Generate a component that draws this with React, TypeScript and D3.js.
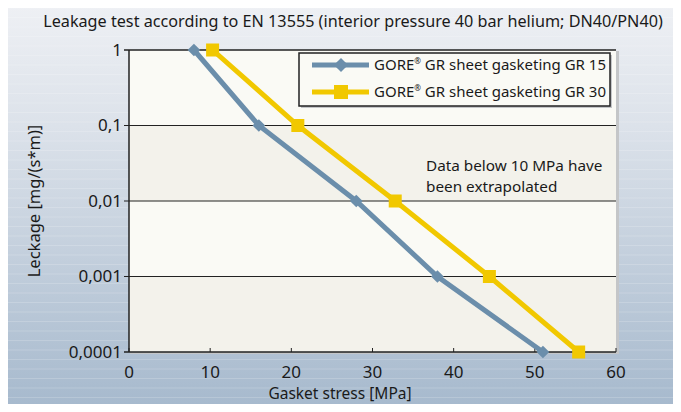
import * as d3 from 'd3';

const stressGR15 = [8, 16, 28, 38, 51];
const stressGR30 = [10.3, 20.8, 32.8, 44.4, 55.4];
const leakage = [1, 0.1, 0.01, 0.001, 0.0001];
const yTicks = [1, 0.1, 0.01, 0.001, 0.0001];
const yTickLabels = ['1', '0,1', '0,01', '0,001', '0,0001'];
const xTicks = [0, 10, 20, 30, 40, 50, 60];

const W = 681;
const H = 412;
const FONT = '"Noto Sans", "Open Sans", sans-serif';
const BLUE = '#6b8eab';
const YELLOW = '#f1c800';

const x = d3.scaleLinear().domain([0, 60]).range([129, 616]);
const y = d3.scaleLog().domain([0.0001, 1]).range([352, 50]);

export default function App() {
  const line = d3.line<[number, number]>()
    .x((d) => x(d[0]))
    .y((d) => y(d[1]));
  const gr15 = stressGR15.map((s, i) => [s, leakage[i]] as [number, number]);
  const gr30 = stressGR30.map((s, i) => [s, leakage[i]] as [number, number]);
  const stripes = d3.range(8, H, 9.5);

  return (
    <div style={{ margin: -8 }}>
      <svg width={W} height={H} style={{ display: 'block', fontFamily: FONT }}>
        <defs>
          <linearGradient id="bg" x1="0" y1="0" x2="0" y2="1">
            <stop offset="0" stopColor="#eef0f4" />
            <stop offset="0.3" stopColor="#dce2ea" />
            <stop offset="1" stopColor="#a6b9cd" />
          </linearGradient>
        </defs>
        <rect x={0} y={0} width={W} height={H} fill="#ffffff" />
        <rect x={1} y={3} width={W} height={H - 2} fill="#9aa0a8" opacity={0.5} />
        <rect x={4} y={5} width={W - 4} height={H - 9} fill="url(#bg)" stroke="#2b2b2b" strokeWidth={1.5} />
        {stripes.map((s) => (
          <line key={s} x1={5} x2={W} y1={s} y2={s} stroke="#ffffff" strokeOpacity={0.18} strokeWidth={1} />
        ))}

        <text x={353} y={27} textAnchor="middle" fontSize={16.2} fill="#1a1a1a">
          Leakage test according to EN 13555 (interior pressure 40 bar helium; DN40/PN40)
        </text>

        {/* plot area bands */}
        <rect x={x(0) + 1} y={y(1) + 1} width={x(60) - x(0) + 2} height={y(0.0001) - y(1) + 1} fill="#c4c6c8" />
        {yTicks.slice(0, -1).map((t, i) => (
          <rect key={t} x={x(0)} y={y(t)} width={x(60) - x(0)} height={y(yTicks[i + 1]) - y(t)}
            fill={i % 2 === 0 ? '#fafaf5' : '#f3f2eb'} />
        ))}
        {yTicks.map((t) => (
          <line key={t} x1={x(0) - 5} x2={x(60)} y1={y(t)} y2={y(t)} stroke="#222" strokeWidth={t === 1 || t === 0.0001 ? 1.5 : 1.2} />
        ))}
        <line x1={x(0)} x2={x(0)} y1={y(1)} y2={y(0.0001)} stroke="#222" strokeWidth={1.5} />
        {xTicks.map((t) => (
          <line key={t} x1={x(t)} x2={x(t)} y1={y(0.0001)} y2={y(0.0001) - 4} stroke="#222" strokeWidth={1} />
        ))}

        {yTicks.map((t, i) => (
          <text key={t} x={x(0) - 7} y={y(t)} dy="0.35em" textAnchor="end" fontSize={17} fill="#1a1a1a">
            {yTickLabels[i]}
          </text>
        ))}
        {xTicks.map((t) => (
          <text key={t} x={x(t)} y={378} textAnchor="middle" fontSize={17} fill="#1a1a1a">{t}</text>
        ))}
        <text x={340} y={399} textAnchor="middle" fontSize={15.5} fill="#1a1a1a">Gasket stress [MPa]</text>
        <text transform="translate(40,201) rotate(-90)" textAnchor="middle" fontSize={16.5} fill="#1a1a1a">
          Leckage [mg/(s*m)]
        </text>

        <text x={426} y={171} fontSize={15.3} fill="#1a1a1a">Data below 10 MPa have</text>
        <text x={426} y={192} fontSize={15.3} fill="#1a1a1a">been extrapolated</text>

        {/* series */}
        <path d={line(gr15) ?? ''} fill="none" stroke={BLUE} strokeWidth={5} />
        {gr15.map((d, i) => (
          <rect key={i} x={x(d[0]) - 4.5} y={y(d[1]) - 4.5} width={9} height={9} fill={BLUE}
            transform={`rotate(45 ${x(d[0])} ${y(d[1])})`} />
        ))}
        <path d={line(gr30) ?? ''} fill="none" stroke={YELLOW} strokeWidth={5} />
        {gr30.map((d, i) => (
          <rect key={i} x={x(d[0]) - 6.5} y={y(d[1]) - 6.5} width={13} height={13} fill={YELLOW} />
        ))}

        {/* legend */}
        <rect x={301} y={55} width={311} height={53} fill="#c4c6c8" />
        <rect x={299} y={53} width={311} height={53} fill="#fafaf5" stroke="#222" strokeWidth={1.5} />
        <line x1={312} x2={369} y1={65} y2={65} stroke={BLUE} strokeWidth={5} />
        <rect x={336} y={60} width={10} height={10} fill={BLUE} transform="rotate(45 341 65)" />
        <text x={374} y={70} fontSize={15} fill="#1a1a1a">GORE<tspan fontSize={8} dy={-6}>®</tspan><tspan dy={6}> GR sheet gasketing GR 15</tspan></text>
        <line x1={312} x2={369} y1={92} y2={92} stroke={YELLOW} strokeWidth={5} />
        <rect x={334} y={85} width={14} height={14} fill={YELLOW} />
        <text x={374} y={97} fontSize={15} fill="#1a1a1a">GORE<tspan fontSize={8} dy={-6}>®</tspan><tspan dy={6}> GR sheet gasketing GR 30</tspan></text>
      </svg>
    </div>
  );
}
